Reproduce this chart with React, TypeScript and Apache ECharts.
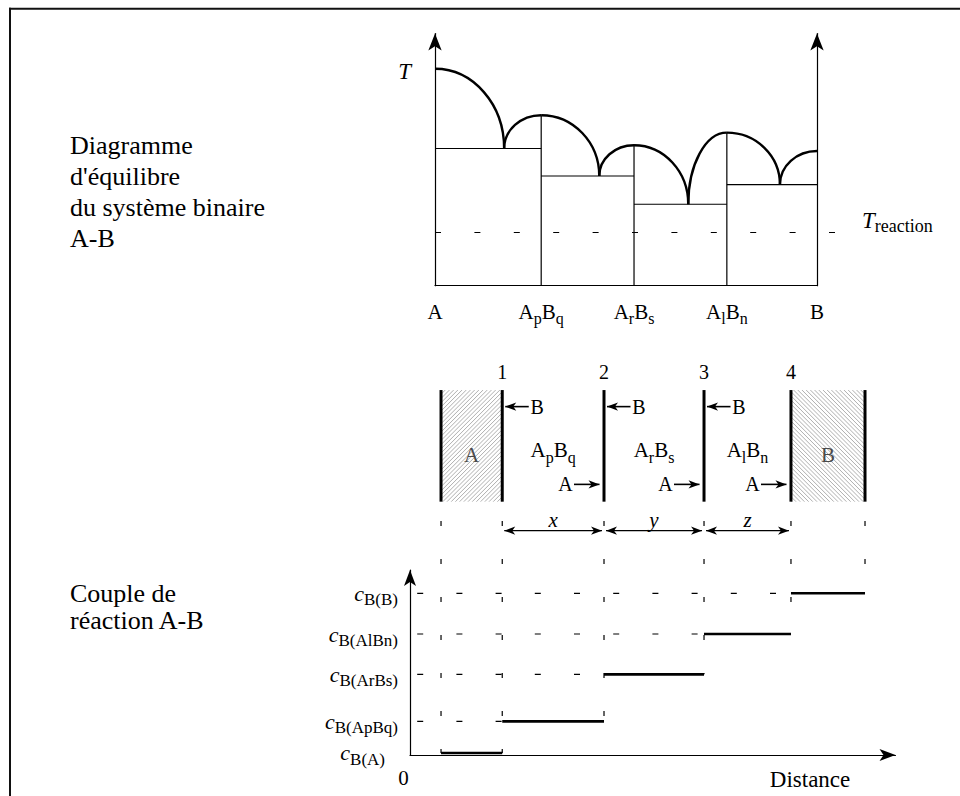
import React, { useEffect, useRef } from 'react';
import * as echarts from 'echarts';

// ---------- Top panel: equilibrium diagram (x = % B, y = temperature, arbitrary units) ----------
const compoundNames = ['A', 'ApBq', 'ArBs', 'AlBn', 'B'];
const compoundX = [0, 27.8, 52.1, 76.4, 100];
const compoundTm = [86.0, 67.6, 55.7, 60.7, 53.4];
const eutecticX = [18.1, 43.0, 66.3, 90.3];
const eutecticT = [54.4, 43.5, 32.3, 40.1];
const reactionT = 21.1;
const reactionLineEnd = 105;

// ---------- Middle panel: diffusion couple (distance units shared with the bottom panel) ----------
const interfaceX = [6.39, 19.0, 39.96, 60.56, 78.47, 93.72];
const interfaceNumbers = ['', '1', '2', '3', '4', ''];
const layerNames = ['A', 'ApBq', 'ArBs', 'AlBn', 'B'];
const widthNames = ['x', 'y', 'z'];
const coupleTop = 83.3;
const coupleBottom = 21.3;
const numberY = 93.5;
const bArrowY = 74.1;
const aArrowY = 30.9;
const layerLabelY = 50;
const widthArrowY = 5.2;
const widthLabelY = 11.1;

// ---------- Bottom panel: concentration profile ----------
const levelNames = ['A', 'ApBq', 'ArBs', 'AlBn', 'B'];
const levelValues = [1.1, 18.2, 43.6, 65.4, 87.4];
const guideTop = 126.5;
const distanceLabelX = 82.4;

const SERIF = "'Liberation Serif', 'Times New Roman', Times, serif";

function richName(name: string): string {
  return name
    .split('')
    .map((ch) => (ch !== ch.toUpperCase() ? `{s|${ch}}` : `{m|${ch}}`))
    .join('');
}

type Seg = [number, number, number, number];

function segSeries(xi: number, yi: number, segs: Seg[], style: any, z = 3) {
  return {
    type: 'custom',
    coordinateSystem: 'cartesian2d',
    xAxisIndex: xi,
    yAxisIndex: yi,
    silent: true,
    clip: false,
    z,
    data: segs.map((s) => [s[0], s[1]]),
    renderItem: (params: any, api: any) => {
      const s = segs[params.dataIndex];
      const a = api.coord([s[0], s[1]]);
      const b = api.coord([s[2], s[3]]);
      return {
        type: 'line',
        shape: { x1: a[0], y1: a[1], x2: b[0], y2: b[1] },
        style: { stroke: '#000', fill: null, ...style },
      };
    },
  };
}

interface TextItem {
  x: number;
  y: number;
  text: string;
  dx?: number;
  dy?: number;
  align?: string;
  style?: any;
}

function textSeries(xi: number, yi: number, items: TextItem[], base: any) {
  return {
    type: 'custom',
    coordinateSystem: 'cartesian2d',
    xAxisIndex: xi,
    yAxisIndex: yi,
    silent: true,
    clip: false,
    z: 6,
    data: items.map((t) => [t.x, t.y]),
    renderItem: (params: any, api: any) => {
      const t = items[params.dataIndex];
      const p = api.coord([t.x, t.y]);
      return {
        type: 'text',
        x: p[0] + (t.dx || 0),
        y: p[1] + (t.dy || 0),
        style: {
          text: t.text,
          align: t.align || 'center',
          verticalAlign: 'middle',
          fill: '#000',
          fontFamily: SERIF,
          ...base,
          ...(t.style || {}),
        },
      };
    },
  };
}

function arrowHead(tip: number[], from: number[], L: number, W: number, ind: number) {
  const dx = tip[0] - from[0];
  const dy = tip[1] - from[1];
  const len = Math.hypot(dx, dy) || 1;
  const ux = dx / len;
  const uy = dy / len;
  const px = -uy;
  const py = ux;
  return {
    type: 'polygon',
    shape: {
      points: [
        [tip[0], tip[1]],
        [tip[0] - ux * L + px * W, tip[1] - uy * L + py * W],
        [tip[0] - ux * (L - ind), tip[1] - uy * (L - ind)],
        [tip[0] - ux * L - px * W, tip[1] - uy * L - py * W],
      ],
    },
    style: { fill: '#000', stroke: null },
  };
}

interface ArrowItem {
  x1: number;
  x2: number;
  y: number;
  dx1: number;
  dx2: number;
  heads: [boolean, boolean];
  lw: number;
}

function arrowSeries(xi: number, yi: number, items: ArrowItem[]) {
  return {
    type: 'custom',
    coordinateSystem: 'cartesian2d',
    xAxisIndex: xi,
    yAxisIndex: yi,
    silent: true,
    clip: false,
    z: 5,
    data: items.map((a) => [a.x1, a.y]),
    renderItem: (params: any, api: any) => {
      const a = items[params.dataIndex];
      const p1 = api.coord([a.x1, a.y]);
      const p2 = api.coord([a.x2, a.y]);
      const s = [p1[0] + a.dx1, p1[1]];
      const e = [p2[0] + a.dx2, p2[1]];
      const children: any[] = [
        { type: 'line', shape: { x1: s[0], y1: s[1], x2: e[0], y2: e[1] }, style: { stroke: '#000', lineWidth: a.lw } },
      ];
      if (a.heads[0]) children.push(arrowHead(s, e, 11, 4.2, 3));
      if (a.heads[1]) children.push(arrowHead(e, s, 11, 4.2, 3));
      return { type: 'group', children };
    },
  };
}

interface HatchBlock {
  x0: number;
  x1: number;
  dir: number;
}

function hatchSeries(xi: number, yi: number, blocks: HatchBlock[], yTop: number, yBot: number) {
  return {
    type: 'custom',
    coordinateSystem: 'cartesian2d',
    xAxisIndex: xi,
    yAxisIndex: yi,
    silent: true,
    clip: false,
    z: 2,
    data: blocks.map((b) => [b.x0, yTop]),
    renderItem: (params: any, api: any) => {
      const b = blocks[params.dataIndex];
      const tl = api.coord([b.x0, yTop]);
      const br = api.coord([b.x1, yBot]);
      const L = tl[0];
      const R = br[0];
      const T = tl[1];
      const B = br[1];
      const step = 4.2;
      const children: any[] = [];
      if (b.dir > 0) {
        // "/" lines: x + y = c
        for (let c = L + T + step; c < R + B; c += step) {
          const xa = Math.max(L, c - B);
          const xb = Math.min(R, c - T);
          if (xb <= xa) continue;
          children.push({
            type: 'line',
            shape: { x1: xa, y1: c - xa, x2: xb, y2: c - xb },
            style: { stroke: '#9a9a9a', lineWidth: 0.8 },
          });
        }
      } else {
        // "\" lines: y - x = c
        for (let c = T - R + step; c < B - L; c += step) {
          const xa = Math.max(L, T - c);
          const xb = Math.min(R, B - c);
          if (xb <= xa) continue;
          children.push({
            type: 'line',
            shape: { x1: xa, y1: xa + c, x2: xb, y2: xb + c },
            style: { stroke: '#9a9a9a', lineWidth: 0.8 },
          });
        }
      }
      return { type: 'group', children };
    },
  };
}

function arcSeries(xi: number, yi: number, branches: Seg[]) {
  return {
    type: 'custom',
    coordinateSystem: 'cartesian2d',
    xAxisIndex: xi,
    yAxisIndex: yi,
    silent: true,
    clip: false,
    z: 4,
    data: branches.map((b) => [b[0], b[1]]),
    renderItem: (params: any, api: any) => {
      const br = branches[params.dataIndex];
      const p = api.coord([br[0], br[1]]);
      const e = api.coord([br[2], br[3]]);
      const k = 0.5523;
      return {
        type: 'bezierCurve',
        shape: {
          x1: p[0],
          y1: p[1],
          x2: e[0],
          y2: e[1],
          cpx1: p[0] + k * (e[0] - p[0]),
          cpy1: p[1],
          cpx2: e[0],
          cpy2: e[1] - k * (e[1] - p[1]),
        },
        style: { stroke: '#000', lineWidth: 2.4, fill: null },
      };
    },
  };
}

function buildOption() {
  const black = '#000';
  const thin = 1.2;

  // ---- top panel geometry ----
  const topSegs: Seg[] = [];
  for (let i = 1; i < compoundX.length - 1; i++) topSegs.push([compoundX[i], 0, compoundX[i], compoundTm[i]]);
  for (let k = 0; k < eutecticT.length; k++) topSegs.push([compoundX[k], eutecticT[k], compoundX[k + 1], eutecticT[k]]);
  const reactionSeg: Seg[] = [[0, reactionT, reactionLineEnd, reactionT]];
  const branches: Seg[] = [];
  for (let k = 0; k < eutecticX.length; k++) {
    branches.push([compoundX[k], compoundTm[k], eutecticX[k], eutecticT[k]]);
    branches.push([compoundX[k + 1], compoundTm[k + 1], eutecticX[k], eutecticT[k]]);
  }
  const topTexts: TextItem[] = [
    { x: compoundX[0], y: compoundTm[0], text: 'T', dx: -24, dy: 2.5, align: 'right', style: { fontSize: 23, fontStyle: 'italic' } },
    {
      x: compoundX[compoundX.length - 1],
      y: reactionT,
      text: '{t|T}{r|reaction}',
      dx: 45,
      dy: -12.3,
      align: 'left',
      style: {
        rich: {
          t: { fontSize: 23, fontStyle: 'italic', lineHeight: 30, fontFamily: SERIF, fill: black },
          r: { fontSize: 18, lineHeight: 20, verticalAlign: 'bottom', fontFamily: SERIF, fill: black },
        },
      },
    },
  ];

  // ---- middle panel ----
  const coupleSegs: Seg[] = interfaceX.map((x) => [x, coupleTop, x, coupleBottom] as Seg);
  const hatchBlocks: HatchBlock[] = [
    { x0: interfaceX[0], x1: interfaceX[1], dir: 1 },
    { x0: interfaceX[4], x1: interfaceX[5], dir: -1 },
  ];
  const arrows: ArrowItem[] = [];
  [1, 2, 3].forEach((i) => arrows.push({ x1: interfaceX[i], x2: interfaceX[i], y: bArrowY, dx1: 26.5, dx2: 3, heads: [false, true], lw: 1.6 }));
  [2, 3, 4].forEach((i) => arrows.push({ x1: interfaceX[i], x2: interfaceX[i], y: aArrowY, dx1: -30, dx2: -4.5, heads: [false, true], lw: 1.6 }));
  widthNames.forEach((_, k) =>
    arrows.push({ x1: interfaceX[k + 1], x2: interfaceX[k + 2], y: widthArrowY, dx1: 2, dx2: -2, heads: [true, true], lw: 1.3 })
  );
  const subRich = {
    m: { fontSize: 21, lineHeight: 30, fontFamily: SERIF, fill: black },
    s: { fontSize: 16, lineHeight: 18, verticalAlign: 'bottom', fontFamily: SERIF, fill: black },
  };
  const midTexts: TextItem[] = [];
  interfaceNumbers.forEach((n, i) => {
    if (n) midTexts.push({ x: interfaceX[i], y: numberY, text: n, style: { fontSize: 20 } });
  });
  layerNames.forEach((name, i) => {
    const xm = (interfaceX[i] + interfaceX[i + 1]) / 2;
    if (i === 0 || i === layerNames.length - 1) {
      midTexts.push({ x: xm, y: layerLabelY - 2.5, text: name, style: { fontSize: 21, fill: '#4a4a4a' } });
    } else {
      midTexts.push({ x: xm, y: layerLabelY, text: richName(name), style: { rich: subRich } });
    }
  });
  [1, 2, 3].forEach((i) => midTexts.push({ x: interfaceX[i], y: bArrowY, text: 'B', dx: 35, style: { fontSize: 20 } }));
  [2, 3, 4].forEach((i) => midTexts.push({ x: interfaceX[i], y: aArrowY, text: 'A', dx: -38.5, style: { fontSize: 20 } }));
  widthNames.forEach((w, k) =>
    midTexts.push({ x: (interfaceX[k + 1] + interfaceX[k + 2]) / 2, y: widthLabelY, text: w, style: { fontSize: 21, fontStyle: 'italic' } })
  );

  // ---- bottom panel ----
  const stepSegs: Seg[] = levelValues.map((v, i) => [interfaceX[i], v, interfaceX[i + 1], v] as Seg);
  const hDash: Seg[] = levelValues.slice(1).map((v, i) => [0, v, interfaceX[i + 1], v] as Seg);
  const vDash: Seg[] = interfaceX.map((x, j) => [x, guideTop, x, levelValues[Math.max(0, j - 1)]] as Seg);

  const hiddenAxis = {
    type: 'value',
    min: 0,
    max: 100,
    show: false,
    axisLine: { show: false, onZero: false },
    splitLine: { show: false },
  };

  return {
    animation: false,
    backgroundColor: '#fff',
    title: [
      {
        text: "Diagramme\nd'équilibre\ndu système binaire\nA-B",
        left: 70,
        top: 130,
        padding: 0,
        textStyle: { fontFamily: SERIF, fontSize: 26, fontWeight: 'normal', color: black, lineHeight: 31 },
      },
      {
        text: 'Couple de\nréaction A-B',
        left: 70,
        top: 580,
        padding: 0,
        textStyle: { fontFamily: SERIF, fontSize: 26, fontWeight: 'normal', color: black, lineHeight: 27 },
      },
    ],
    graphic: [
      { type: 'line', silent: true, shape: { x1: 10, y1: 7.7, x2: 10, y2: 796 }, style: { stroke: '#111', lineWidth: 2 } },
      { type: 'line', silent: true, shape: { x1: 9, y1: 8.7, x2: 960, y2: 8.7 }, style: { stroke: '#111', lineWidth: 2 } },
    ],
    grid: [
      { left: 435, top: 33.5, width: 382, height: 252.2, outerBoundsMode: 'none', containLabel: false },
      { left: 410, top: 570, width: 485.5, height: 185, outerBoundsMode: 'none', containLabel: false },
      { left: 410, top: 360, width: 485.5, height: 180, outerBoundsMode: 'none', containLabel: false },
    ],
    xAxis: [
      {
        type: 'value',
        gridIndex: 0,
        min: 0,
        max: 100,
        axisLine: { show: true, onZero: false, lineStyle: { color: black, width: thin } },
        axisTick: { show: false },
        splitLine: { show: false },
        axisLabel: {
          show: true,
          customValues: compoundX,
          margin: 11,
          formatter: (v: number) => richName(compoundNames[compoundX.indexOf(v)] || ''),
          rich: {
            m: { fontSize: 21, lineHeight: 30, fontFamily: SERIF, color: black },
            s: { fontSize: 16, lineHeight: 18, verticalAlign: 'bottom', fontFamily: SERIF, color: black },
          },
        },
      },
      {
        type: 'value',
        gridIndex: 1,
        min: 0,
        max: 100,
        axisLine: { show: true, onZero: false, symbol: ['none', 'arrow'], symbolSize: [9, 16], lineStyle: { color: black, width: thin } },
        axisTick: { show: false },
        splitLine: { show: false },
        axisLabel: {
          show: true,
          customValues: [0, distanceLabelX],
          margin: 11,
          formatter: (v: number) => (v === 0 ? '{z|0}' : '{d|Distance}'),
          rich: {
            z: { fontSize: 21, lineHeight: 24, fontFamily: SERIF, color: black, padding: [0, 13, 0, 0] },
            d: { fontSize: 23, lineHeight: 26, fontFamily: SERIF, color: black },
          },
        },
      },
      { ...hiddenAxis, gridIndex: 2 },
    ],
    yAxis: [
      {
        type: 'value',
        gridIndex: 0,
        position: 'left',
        min: 0,
        max: 100,
        axisLine: { show: true, onZero: false, symbol: ['none', 'arrow'], symbolSize: [10, 17], lineStyle: { color: black, width: thin } },
        axisTick: { show: false },
        axisLabel: { show: false },
        splitLine: { show: false },
      },
      {
        type: 'value',
        gridIndex: 0,
        position: 'right',
        min: 0,
        max: 100,
        axisLine: { show: true, onZero: false, symbol: ['none', 'arrow'], symbolSize: [10, 17], lineStyle: { color: black, width: thin } },
        axisTick: { show: false },
        axisLabel: { show: false },
        splitLine: { show: false },
      },
      {
        type: 'value',
        gridIndex: 1,
        min: 0,
        max: 100,
        axisLine: { show: true, onZero: false, symbol: ['none', 'arrow'], symbolSize: [9, 16], lineStyle: { color: black, width: thin } },
        axisTick: { show: false },
        splitLine: { show: false },
        axisLabel: {
          show: true,
          customValues: levelValues,
          margin: 12,
          formatter: (v: number) => {
            const i = levelValues.indexOf(v);
            return i === 0 ? `{c|c}{sA|B(${levelNames[i]})}` : `{c|c}{s|B(${levelNames[i] || ''})}`;
          },
          rich: {
            c: { fontSize: 22, fontStyle: 'italic', lineHeight: 30, fontFamily: SERIF, color: black },
            s: { fontSize: 17, lineHeight: 22, verticalAlign: 'bottom', fontFamily: SERIF, color: black },
            sA: { fontSize: 17, lineHeight: 22, verticalAlign: 'bottom', fontFamily: SERIF, color: black, padding: [0, 13, 0, 0] },
          },
        },
      },
      { ...hiddenAxis, gridIndex: 2 },
    ],
    series: [
      // top panel
      segSeries(0, 0, topSegs, { lineWidth: thin }),
      segSeries(0, 0, reactionSeg, { lineWidth: thin, lineDash: [6, 33.4], lineDashOffset: 0 }),
      arcSeries(0, 0, branches),
      textSeries(0, 0, topTexts, {}),
      // middle panel
      hatchSeries(2, 3, hatchBlocks, coupleTop, coupleBottom),
      segSeries(2, 3, coupleSegs, { lineWidth: 3 }),
      arrowSeries(2, 3, arrows),
      textSeries(2, 3, midTexts, {}),
      // bottom panel
      segSeries(1, 2, hDash, { lineWidth: thin, lineDash: [6, 33.2], lineDashOffset: 32.2 }),
      segSeries(1, 2, vDash, { lineWidth: thin, lineDash: [5, 33], lineDashOffset: 0 }),
      segSeries(1, 2, stepSegs, { lineWidth: 2.6 }, 4),
    ],
  };
}

export default function App() {
  const ref = useRef<HTMLDivElement>(null);
  useEffect(() => {
    if (!ref.current) return;
    const chart = echarts.init(ref.current, null, { renderer: 'svg' });
    chart.setOption(buildOption() as any);
    return () => chart.dispose();
  }, []);
  return (
    <div
      ref={ref}
      style={{ position: 'fixed', left: 0, top: 0, width: 960, height: 796, background: '#fff' }}
    />
  );
}
